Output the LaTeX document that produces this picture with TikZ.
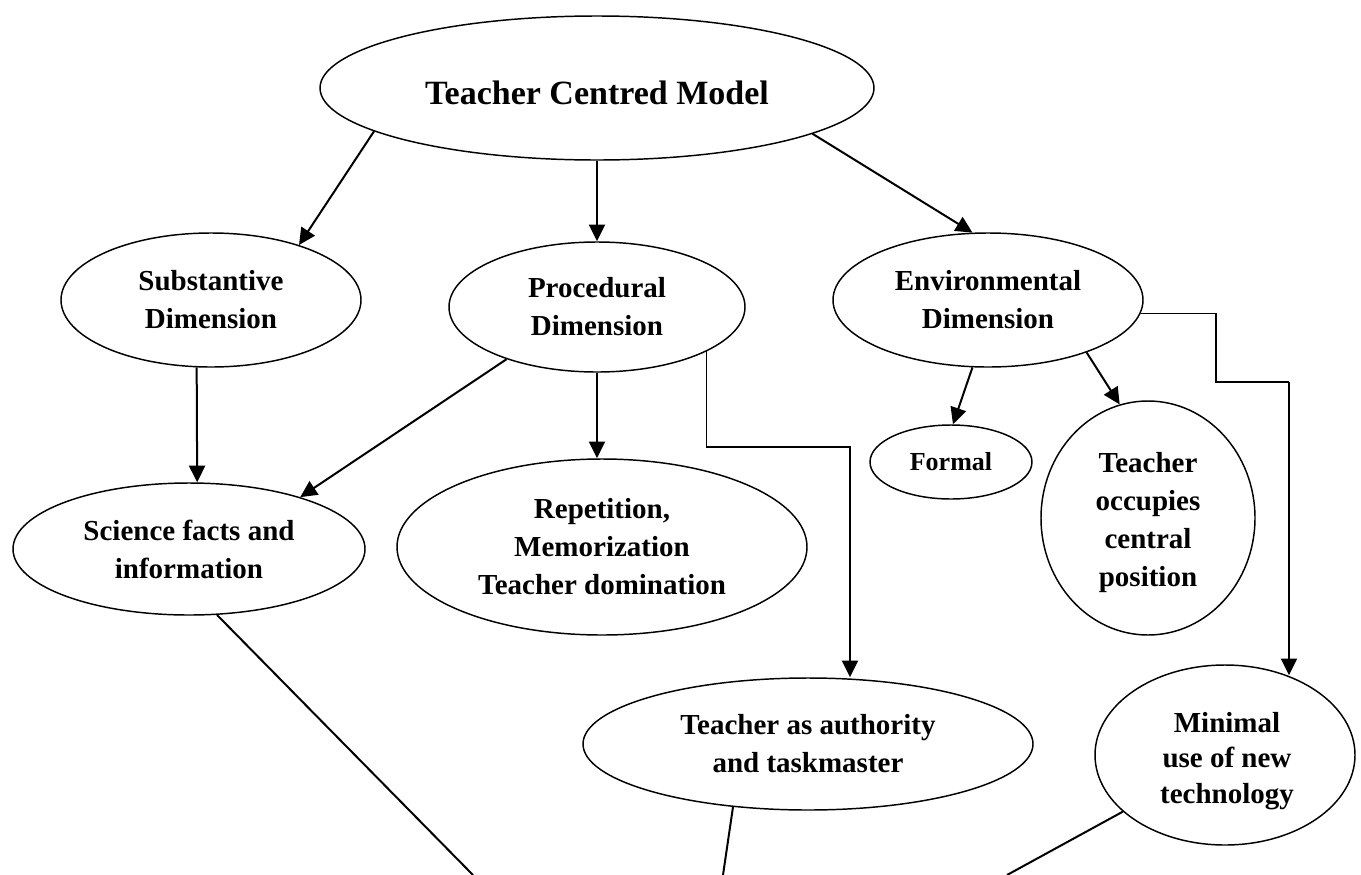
\documentclass[tikz,border=0pt]{standalone}
\usepackage{fontspec}
\setmainfont{Liberation Serif}
\usetikzlibrary{arrows.meta,shapes.geometric,calc}
\begin{document}
\begin{tikzpicture}[x=0.75pt,y=-0.75pt,
  ell/.style n args={2}{ellipse,draw,line width=1.1pt,inner sep=0pt,align=center,
     minimum width={(#1)*1.5pt},minimum height={(#2)*1.5pt},
     font=\fontsize{21.75}{28.5}\selectfont\bfseries},
  txt/.style={inner sep=0pt,align=center,font=\fontsize{21.75}{28.5}\selectfont\bfseries},
  arr/.style={line width=1.5pt,-{Triangle[length=12.5pt,width=12pt]}},
  elbow/.style={line width=0.8pt},
  plain/.style={line width=1.5pt}]
\useasboundingbox (0,0) rectangle (1361,875);
\node[ell={277}{72}] (top) at (597,88) {};
\node[txt,font=\fontsize{25.5}{30}\selectfont\bfseries] (toptext) at (597,93) {Teacher Centred Model};
\node[ell={150}{67}] (sub) at (211,300) {Substantive\\Dimension};
\node[ell={148}{65}] (proc) at (597,307) {Procedural\\Dimension};
\node[ell={155}{67}] (env) at (988,300) {Environmental\\Dimension};
\node[ell={176}{66}] (sci) at (189,549) {Science facts and\\information};
\node[ell={205}{88}] (rep) at (602,547) {Repetition,\\Memorization\\Teacher domination};
\node[ell={81}{37},font=\fontsize{19.5}{24}\selectfont\bfseries] (formal) at (951,462) {Formal};
\node[ell={107}{117}] (occ) at (1148,518) {};
\node[txt] (occtext) at (1148,523) {Teacher\\occupies\\central\\position};
\node[ell={225}{66}] (auth) at (808,744) {Teacher as authority\\and taskmaster};
\node[ell={130}{90}] (mini) at (1225,755) {};
\node[txt,font=\fontsize{21.75}{26.5}\selectfont\bfseries] (minitext) at (1227,761) {Minimal\\use of new\\technology};
\coordinate (pe1) at (850,447);
\coordinate (pe2) at (850,510);
\coordinate (ee1) at (1216,382);
\coordinate (ee2) at (1289,382);
\coordinate (b1) at (473,875);
\coordinate (b2) at (723,875);
\coordinate (b3) at (1007,875);
\draw[arr] (top.191) -- (sub.32);
\draw[arr] (top.south) -- (proc.north);
\draw[arr] (top.-12) -- (env.103);
\draw[arr] (sub.258) -- (sci.83);
\draw[arr] (proc.210) -- (sci.25);
\draw[arr] (proc.south) -- (proc.south |- rep.north);
\draw[arr] (env.257) -- (formal.87);
\draw[arr] (env.-28) -- (occ.104);
\draw[elbow] (proc.-22) |- (pe1) -- (pe2);
\draw[arr] (pe2) -- (pe2 |- auth.north);
\draw[elbow] (env.-5) -| (ee1) -- (ee2);
\draw[arr] (ee2) -- (ee2 |- mini.52);
\draw[plain] (sci.293) -- (b1);
\draw[plain] (auth.220) -- (b2);
\draw[plain] (mini.209) -- (b3);
\end{tikzpicture}
\end{document}
